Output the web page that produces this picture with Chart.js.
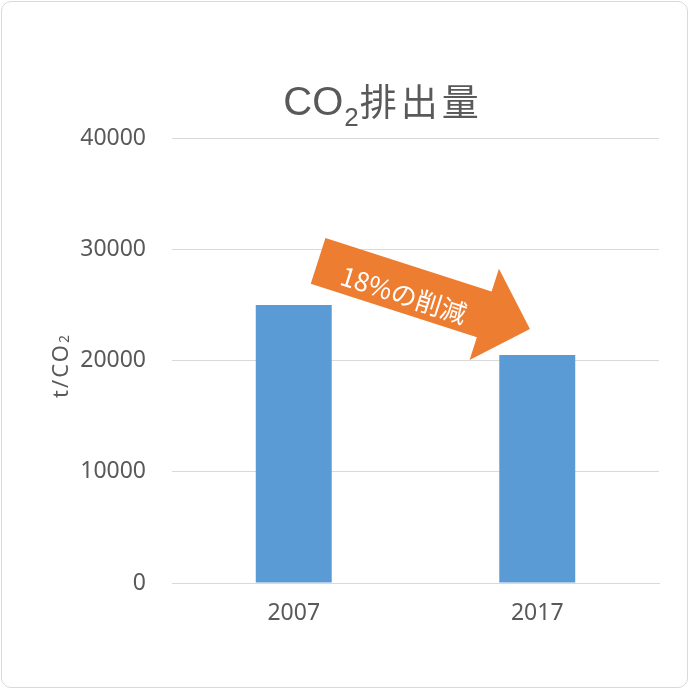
<!DOCTYPE html>
<html>
<head>
<meta charset="utf-8">
<script src="https://cdn.jsdelivr.net/npm/chart.js@4"></script>
<style>
  html, body { margin: 0; padding: 0; background: #fff; }
  #wrap { position: absolute; left: 0; top: 0; width: 690px; height: 690px; }
  #frame { position: absolute; left: 1px; top: 1px; width: 685px; height: 685px; border: 1.5px solid #d9d9d9; border-radius: 10px; pointer-events: none; }
  canvas { display: block; position: absolute; left: 0; top: 0; }
</style>
</head>
<body>
<div id="wrap"><canvas id="c" width="690" height="690"></canvas><div id="frame"></div></div>
<script>
const categories = ['2007', '2017'];
const emissions = [25000, 20500];
const yTicks = [0, 10000, 20000, 30000, 40000];
const titleParts = ['CO', '2', '排出量'];
const yAxisTitle = ['t/CO', '2'];
const arrowLabel = '18%の削減';
// arrow anchor points in data units (category index, value)
const arrowFrom = [0.1, 28950];
const arrowTo = [0.97, 22830];

const textColor = '#595959';

const titlePlugin = {
  id: 'richTitle',
  afterDraw(chart) {
    const ctx = chart.ctx;
    ctx.save();
    ctx.fillStyle = textColor;
    ctx.textBaseline = 'alphabetic';
    const big = '40px "Liberation Sans", Arial, sans-serif';
    const sub = '26px "Liberation Sans", Arial, sans-serif';
    const cjk = '37px "Noto Sans CJK JP", sans-serif';
    ctx.font = big; const w1 = ctx.measureText(titleParts[0]).width;
    ctx.font = sub; const w2 = ctx.measureText(titleParts[1]).width;
    ctx.font = cjk; ctx.letterSpacing = '4px'; const w3 = ctx.measureText(titleParts[2]).width;
    ctx.letterSpacing = '0px';
    const total = w1 + w2 + 2 + w3;
    let x = chart.width / 2 + 38 - total / 2;
    const base = 115;
    ctx.font = big; ctx.fillText(titleParts[0], x, base); x += w1 + 1;
    ctx.font = sub; ctx.fillText(titleParts[1], x, base + 11); x += w2 + 1;
    ctx.font = cjk; ctx.letterSpacing = '4px'; ctx.fillText(titleParts[2], x, base + 1);
    ctx.restore();

    // y axis title
    const ya = chart.scales.y;
    ctx.save();
    ctx.fillStyle = textColor;
    ctx.translate(62, (ya.top + ya.bottom) / 2 + 5);
    ctx.rotate(-Math.PI / 2);
    ctx.letterSpacing = '2px';
    ctx.font = '22px "Noto Sans", sans-serif';
    const a = ctx.measureText(yAxisTitle[0]).width;
    ctx.font = '14px "Noto Sans", sans-serif';
    const b = ctx.measureText(yAxisTitle[1]).width;
    let tx = -(a + b) / 2;
    ctx.textBaseline = 'middle';
    ctx.font = '22px "Noto Sans", sans-serif';
    ctx.fillText(yAxisTitle[0], tx, 0);
    ctx.font = '14px "Noto Sans", sans-serif';
    ctx.fillText(yAxisTitle[1], tx + a, 3);
    ctx.restore();
  }
};

const arrowPlugin = {
  id: 'arrow',
  afterDatasetsDraw(chart) {
    const xs = chart.scales.x, ys = chart.scales.y, ctx = chart.ctx;
    const x0 = xs.getPixelForValue(arrowFrom[0]), y0 = ys.getPixelForValue(arrowFrom[1]);
    const x1 = xs.getPixelForValue(arrowTo[0]), y1 = ys.getPixelForValue(arrowTo[1]);
    const len = Math.hypot(x1 - x0, y1 - y0);
    const ang = Math.atan2(y1 - y0, x1 - x0);
    const bodyHalf = 24, headHalf = 48, headLen = 48;
    ctx.save();
    ctx.translate(x0, y0);
    ctx.rotate(ang);
    ctx.fillStyle = '#ED7D31';
    ctx.beginPath();
    ctx.moveTo(0, -bodyHalf);
    ctx.lineTo(len - headLen, -bodyHalf);
    ctx.lineTo(len - headLen, -headHalf);
    ctx.lineTo(len, 0);
    ctx.lineTo(len - headLen, headHalf);
    ctx.lineTo(len - headLen, bodyHalf);
    ctx.lineTo(0, bodyHalf);
    ctx.closePath();
    ctx.fill();
    ctx.fillStyle = '#ffffff';
    ctx.font = '26px "Noto Sans CJK JP", sans-serif';
    ctx.textAlign = 'center';
    ctx.textBaseline = 'middle';
    ctx.fillText(arrowLabel, 92, 6);
    ctx.restore();
  }
};

new Chart(document.getElementById('c'), {
  type: 'bar',
  data: {
    labels: categories,
    datasets: [{
      data: emissions,
      backgroundColor: '#5B9BD5',
      borderWidth: 0,
      categoryPercentage: 1,
      barPercentage: 0.312
    }]
  },
  options: {
    responsive: false,
    animation: false,
    layout: { padding: { top: 138, left: 48, right: 31, bottom: 47 } },
    plugins: { legend: { display: false }, title: { display: false }, tooltip: { enabled: false } },
    scales: {
      x: {
        grid: { display: false, drawTicks: false },
        border: { display: true, color: '#d9d9d9', width: 1 },
        ticks: { color: textColor, font: { family: '"Noto Sans", sans-serif', size: 23 }, padding: 17 },
        afterFit(s) { s.height = 60; }
      },
      y: {
        min: 0, max: 40000,
        afterBuildTicks(s) { s.ticks = yTicks.map(v => ({ value: v })); },
        grid: { color: '#d9d9d9', drawTicks: false, lineWidth: 1 },
        border: { display: false },
        ticks: { color: textColor, font: { family: '"Noto Sans", sans-serif', size: 23 }, padding: 26, callback: v => String(v) },
        afterFit(s) { s.width = 124; }
      }
    }
  },
  plugins: [titlePlugin, arrowPlugin]
});
</script>
</body>
</html>
